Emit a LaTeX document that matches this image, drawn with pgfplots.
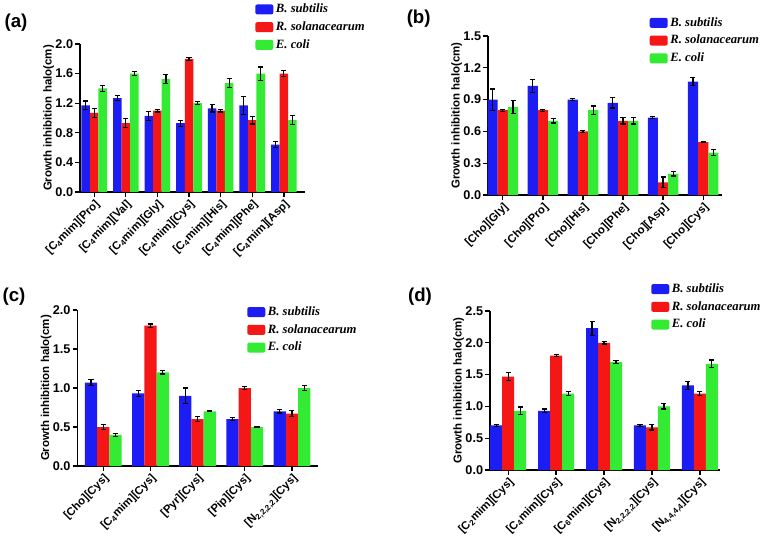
\documentclass[border=0pt]{standalone}
\usepackage{fontspec}
\setmainfont{Liberation Sans}
\newfontfamily\legfont{Liberation Serif}
\usepackage{pgfplots}
\usepackage{pgfplotstable}
\pgfplotsset{compat=1.18}

\definecolor{cB}{RGB}{28,28,245}
\definecolor{cR}{RGB}{245,22,22}
\definecolor{cG}{RGB}{50,235,50}

% panel (a): [C4mim][AA]
\pgfplotstableread{
x b be r re g ge
0 1.17 0.06 1.07 0.06 1.40 0.04
1 1.27 0.03 0.93 0.06 1.60 0.03
2 1.03 0.06 1.10 0.02 1.53 0.06
3 0.93 0.04 1.80 0.02 1.20 0.02
4 1.13 0.05 1.10 0.02 1.47 0.06
5 1.17 0.12 0.97 0.05 1.60 0.09
6 0.64 0.04 1.60 0.04 0.97 0.06
}\dataA
% panel (b): [Cho][AA]
\pgfplotstableread{
x b be r re g ge
0 0.90 0.10 0.80 0.01 0.83 0.06
1 1.03 0.06 0.80 0.01 0.70 0.02
2 0.90 0.01 0.60 0.01 0.80 0.04
3 0.87 0.05 0.70 0.03 0.70 0.03
4 0.73 0.01 0.12 0.05 0.20 0.02
5 1.07 0.04 0.50 0.005 0.40 0.03
}\dataB
% panel (c): cations with [Cys]
\pgfplotstableread{
x b be r re g ge
0 1.07 0.04 0.50 0.03 0.40 0.02
1 0.93 0.04 1.80 0.02 1.20 0.02
2 0.90 0.10 0.60 0.03 0.70 0.005
3 0.60 0.02 1.00 0.02 0.50 0.01
4 0.70 0.02 0.67 0.04 1.00 0.03
}\dataC
% panel (d): alkyl chain length
\pgfplotstableread{
x b be r re g ge
0 0.70 0.02 1.47 0.06 0.93 0.06
1 0.93 0.03 1.80 0.02 1.20 0.03
2 2.23 0.11 2.00 0.02 1.70 0.02
3 0.70 0.02 0.67 0.04 1.00 0.04
4 1.33 0.06 1.20 0.03 1.67 0.06
}\dataD

\pgfplotsset{
  panel/.style={
    scale only axis,
    anchor=south west,
    ymin=0,
    axis x line*=bottom,
    axis y line*=left,
    axis line style={black, line width=1.2pt},
    tick style={black, line width=1pt},
    major tick length=3.5pt,
    tick align=outside,
    xticklabel style={rotate=45, anchor=north east, inner sep=1pt, font=\bfseries\fontsize{8.5}{10}\selectfont},
    yticklabel style={font=\bfseries\fontsize{9.5}{10}\selectfont, inner sep=1.5pt,
      /pgf/number format/.cd, fixed, fixed zerofill, precision=1, assume math mode=true},
    ylabel={Growth inhibition halo(cm)},
    ylabel style={font=\bfseries\fontsize{8.6}{10}\selectfont},
    ylabel shift=-4pt,
    legend cell align=left,
    legend style={draw=none, fill=none, anchor=north west, inner sep=0pt,
      font=\legfont\bfseries\itshape\fontsize{9.5}{11}\selectfont,
      row sep=1.2pt},
    clip=false,
  },
  bars/.style n args={2}{ybar, bar width=#1, bar shift=0pt, fill=#2, draw=none,
    legend image code/.code={\fill[#2, rounded corners=1.5pt] (0pt,-3.75pt) rectangle (13.5pt,3.75pt);},
    error bars/.cd, y dir=both, y explicit,
    error bar style={black, line width=0.9pt},
    error mark options={black, rotate=90, mark size=1.9pt, line width=0.9pt}},
}

\begin{document}
\begin{tikzpicture}
\useasboundingbox (0,0) rectangle (579pt,402.75pt);

% (a)
\begin{axis}[panel, at={(60pt,258.75pt)}, width=168.75pt, height=111pt,
  xmin=-0.45, xmax=6.67, ymax=2.0, ytick={0,0.4,...,2.0}, xtick={0,...,6},
  xticklabels={{[C\textsubscript{4}mim][Pro]},{[C\textsubscript{4}mim][Val]},{[C\textsubscript{4}mim][Gly]},{[C\textsubscript{4}mim][Cys]},{[C\textsubscript{4}mim][His]},{[C\textsubscript{4}mim][Phe]},{[C\textsubscript{4}mim][Asp]}},
  legend style={at={(0.778,1.29)}}]
\addplot[bars={0.27}{cB}] table[x expr=\thisrow{x}-0.27, y=b, y error=be] {\dataA};
\addplot[bars={0.27}{cR}] table[x=x, y=r, y error=re] {\dataA};
\addplot[bars={0.27}{cG}] table[x expr=\thisrow{x}+0.27, y=g, y error=ge] {\dataA};
\legend{B. subtilis, R. solanacearum, E. coli}
\end{axis}

% (b)
\begin{axis}[panel, at={(366pt,256.5pt)}, width=175.5pt, height=119.25pt,
  xmin=-0.37, xmax=5.47, ymax=1.5, ytick={0,0.3,...,1.5}, xtick={0,...,5},
  xticklabels={{[Cho][Gly]},{[Cho][Pro]},{[Cho][His]},{[Cho][Phe]},{[Cho][Asp]},{[Cho][Cys]}},
  legend style={at={(0.69,1.135)}}]
\addplot[bars={0.255}{cB}] table[x expr=\thisrow{x}-0.255, y=b, y error=be] {\dataB};
\addplot[bars={0.255}{cR}] table[x=x, y=r, y error=re] {\dataB};
\addplot[bars={0.255}{cG}] table[x expr=\thisrow{x}+0.255, y=g, y error=ge] {\dataB};
\legend{B. subtilis, R. solanacearum, E. coli}
\end{axis}

% (c)
\begin{axis}[panel, at={(58pt,53.25pt)}, width=180.75pt, height=117pt,
  xmin=-0.55, xmax=4.56, ymax=2.0, ytick={0,0.5,...,2.0}, xtick={0,...,4},
  xticklabels={{[Cho][Cys]},{[C\textsubscript{4}mim][Cys]},{[Pyr][Cys]},{[Pip][Cys]},{[N\textsubscript{2,2,2,2}][Cys]}},
  legend style={at={(0.704,1.04)}}]
\addplot[bars={0.26}{cB}] table[x expr=\thisrow{x}-0.26, y=b, y error=be] {\dataC};
\addplot[bars={0.26}{cR}] table[x=x, y=r, y error=re] {\dataC};
\addplot[bars={0.26}{cG}] table[x expr=\thisrow{x}+0.26, y=g, y error=ge] {\dataC};
\legend{B. subtilis, R. solanacearum, E. coli}
\end{axis}

% (d)
\begin{axis}[panel, at={(367.5pt,50.25pt)}, width=172.5pt, height=119.25pt,
  xmin=-0.38, xmax=4.42, ymax=2.5, ytick={0,0.5,...,2.5}, xtick={0,...,4},
  xticklabels={{[C\textsubscript{2}mim][Cys]},{[C\textsubscript{4}mim][Cys]},{[C\textsubscript{6}mim][Cys]},{[N\textsubscript{2,2,2,2}][Cys]},{[N\textsubscript{4,4,4,4}][Cys]}},
  legend style={at={(0.70,1.19)}}]
\addplot[bars={0.25}{cB}] table[x expr=\thisrow{x}-0.25, y=b, y error=be] {\dataD};
\addplot[bars={0.25}{cR}] table[x=x, y=r, y error=re] {\dataD};
\addplot[bars={0.25}{cG}] table[x expr=\thisrow{x}+0.25, y=g, y error=ge] {\dataD};
\legend{B. subtilis, R. solanacearum, E. coli}
\end{axis}

\node[font=\bfseries\fontsize{14}{16}\selectfont] at (12pt,386pt) {(a)};
\node[font=\bfseries\fontsize{14}{16}\selectfont] at (314pt,389pt) {(b)};
\node[font=\bfseries\fontsize{14}{16}\selectfont] at (10.5pt,180pt) {(c)};
\node[font=\bfseries\fontsize{14}{16}\selectfont] at (315pt,180pt) {(d)};
\end{tikzpicture}
\end{document}
